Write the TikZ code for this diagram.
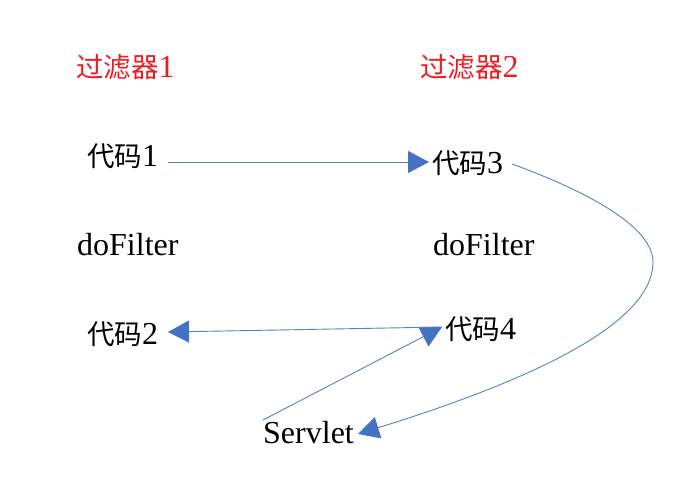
\documentclass[tikz,border=0pt]{standalone}
\usepackage{fontspec}
\setmainfont{Liberation Serif}
\newfontfamily\cjk{Noto Sans CJK SC}
\usetikzlibrary{arrows.meta}
\definecolor{linkblue}{RGB}{91,127,192}
\definecolor{headblue}{RGB}{68,114,196}
\definecolor{titlered}{RGB}{237,28,36}
\newcommand\cn[1]{{\cjk\fontsize{27.5}{30}\selectfont #1}}
\begin{document}
\begin{tikzpicture}[x=1pt,y=-1pt,
  lbl/.style={anchor=base west,inner sep=0pt,font=\fontsize{32}{38}\selectfont},
  title/.style={lbl,text=titlered},
  conn/.style={draw=linkblue,line width=0.9pt,
    -{Triangle[length=21pt,width=22pt,fill=headblue,color=headblue]}}]
\useasboundingbox (0,0) rectangle (690,499);
\fill[white] (0,0) rectangle (690,499);
\node[title] (f1) at (76,77) {\cn{过滤器}1};
\node[title] (f2) at (420,77) {\cn{过滤器}2};
\node[lbl] (c1) at (87,166) {\cn{代码}1};
\node[lbl] (c3) at (432,173) {\cn{代码}3};
\node[lbl] (d1) at (77,255) {doFilter};
\node[lbl] (d2) at (433,255) {doFilter};
\node[lbl] (c2) at (87,344) {\cn{代码}2};
\node[lbl] (c4) at (445,339) {\cn{代码}4};
\node[lbl] (sv) at (263,443) {Servlet};
% connector end points
\coordinate (c1out) at (168,162);
\coordinate (c3in) at (429,162);
\coordinate (c3out) at (512,164);
\coordinate (bend) at (653,262);
\coordinate (svin) at (358,434);
\coordinate (svout) at (263,420);
\coordinate (c4in) at (442,327);
\coordinate (c2in) at (168,332);
\draw[conn] (c1out) -- (c3in);
\draw[conn] (c3out) .. controls (605,198) and (653,232) .. (bend)
  .. controls (653,310) and (580,365) .. (svin);
\draw[conn] (svout) -- (c4in);
\draw[conn] (c4in) -- (c2in);
\end{tikzpicture}
\end{document}
